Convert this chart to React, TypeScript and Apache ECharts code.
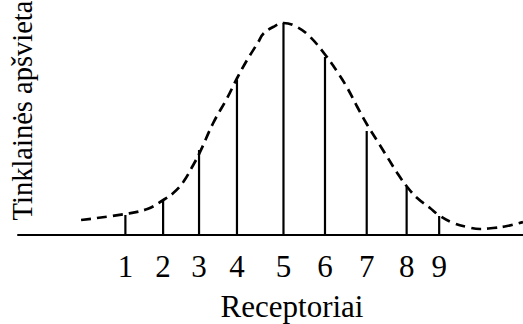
import React, { useEffect, useRef } from "react";
import * as echarts from "echarts";

// Receptor positions along the retina and the light falling on each one
const receptorPos = [1.04, 1.985, 2.885, 3.835, 5.0, 6.04, 7.085, 8.085, 8.9];
const receptorLabels = ["1", "2", "3", "4", "5", "6", "7", "8", "9"];
const receptorValues = [20, 36, 85, 155, 212, 178, 104, 48, 19];

// Illumination profile (dashed curve)
const curveX = [
  -0.07, 1.03, 1.59, 1.99, 2.24, 2.49, 2.74, 2.91, 3.24, 3.59, 3.84, 4.09, 4.37,
  4.49, 4.74, 5.0, 5.34, 5.67, 6.05, 6.35, 6.6, 6.85, 7.1, 7.35, 7.6, 7.85, 8.1,
  8.35, 8.67, 8.92, 9.25, 9.6, 9.93, 10.25, 10.6, 11.0,
];
const curveY = [
  15, 21, 26, 35, 42, 53, 70, 83, 112, 137, 157, 175, 193, 201, 208, 212, 208,
  198, 180, 163, 147, 128, 110, 94, 78, 62, 48, 37, 27, 19, 12, 8, 6, 7, 9, 13,
];

const xAxisName = "Receptoriai";
const yAxisName = "Tinklainės apšvieta";

const FONT = "'Liberation Serif', 'Times New Roman', serif";

export default function App() {
  const ref = useRef<HTMLDivElement>(null);

  useEffect(() => {
    if (!ref.current) return;
    const chart = echarts.init(ref.current, null, { renderer: "svg" });

    chart.setOption({
      animation: false,
      backgroundColor: "#ffffff",
      grid: { left: 18, right: 0, top: 15, bottom: 89, containLabel: false },
      xAxis: {
        type: "value",
        min: -1.65,
        max: 11,
        splitLine: { show: false },
        axisTick: { show: false },
        axisLine: { show: true, lineStyle: { color: "#000", width: 2 } },
        axisLabel: {
          show: true,
          customValues: receptorPos,
          formatter: (v: number) => {
            const i = receptorPos.findIndex((p) => Math.abs(p - v) < 1e-6);
            return i >= 0 ? receptorLabels[i] : "";
          },
          margin: 16,
          color: "#000",
          fontFamily: FONT,
          fontSize: 31,
        },
      },
      yAxis: {
        type: "value",
        min: 0,
        max: 220,
        show: false,
      },
      series: [
        {
          type: "bar",
          data: receptorPos.map((x, i) => [x, receptorValues[i]]),
          barWidth: 2.2,
          itemStyle: { color: "#000" },
          z: 2,
        },
        {
          type: "line",
          data: curveX.map((x, i) => [x, curveY[i]]),
          smooth: 0.4,
          symbol: "none",
          lineStyle: { color: "#000", width: 2.7, type: [10, 6] },
          z: 3,
        },
      ],
      graphic: [
        {
          type: "text",
          x: 292,
          y: 306,
          style: {
            text: xAxisName,
            fill: "#000",
            font: `31px ${FONT}`,
            textAlign: "center",
            textVerticalAlign: "middle",
          },
        },
        {
          type: "text",
          x: 22.5,
          y: 110.5,
          rotation: Math.PI / 2,
          style: {
            text: yAxisName,
            fill: "#000",
            font: `28.5px ${FONT}`,
            textAlign: "center",
            textVerticalAlign: "middle",
          },
        },
      ],
    });

    return () => chart.dispose();
  }, []);

  return (
    <div
      ref={ref}
      style={{ position: "fixed", left: 0, top: 0, width: 523, height: 324 }}
    />
  );
}
